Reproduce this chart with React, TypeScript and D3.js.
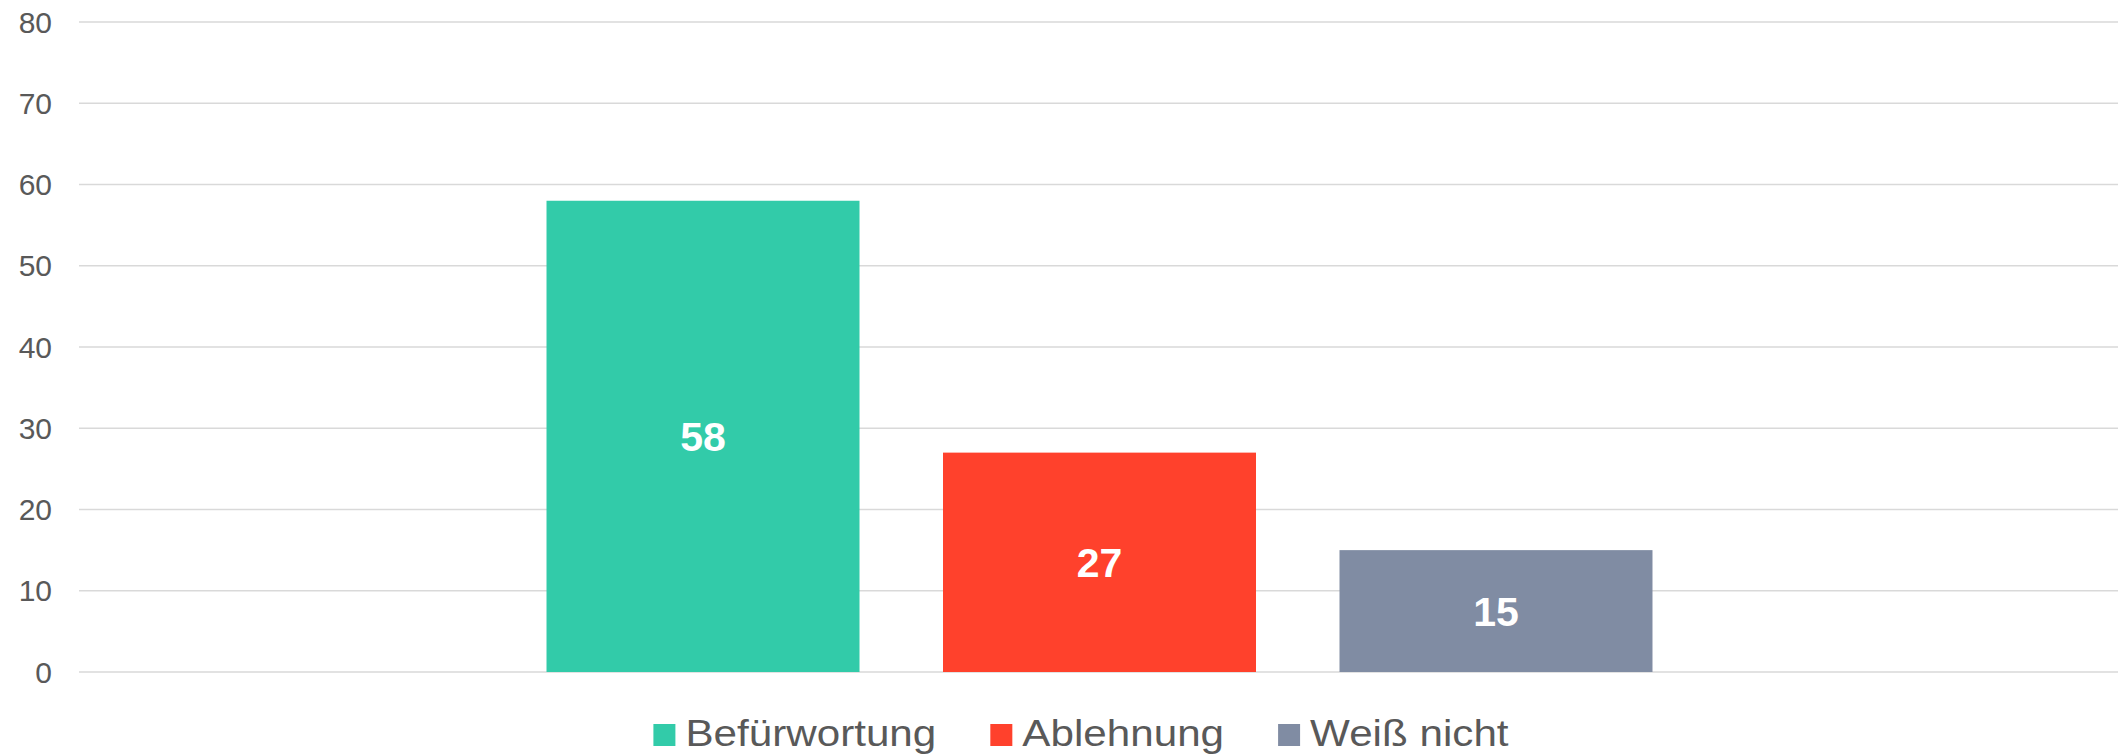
import React, { useEffect, useRef } from "react";
import * as d3 from "d3";

const seriesNames = ["Befürwortung", "Ablehnung", "Weiß nicht"];
const seriesValues = [58, 27, 15];
const seriesColors = ["#32CBA9", "#FF412C", "#808CA3"];
const yTicks = [0, 10, 20, 30, 40, 50, 60, 70, 80];

const W = 2118;
const H = 756;

export default function App() {
  const ref = useRef<SVGSVGElement>(null);

  useEffect(() => {
    document.body.style.margin = "0";
    const svg = d3.select(ref.current);
    svg.selectAll("*").remove();

    const left = 79;
    const right = W;
    const y = d3.scaleLinear().domain([0, 80]).range([672, 22]);
    const x = d3
      .scaleBand<string>()
      .domain(seriesNames)
      .range([left + 1, right + 1])
      .paddingInner(0.2106)
      .paddingOuter(1.1766);

    const font = "'Liberation Sans', Arial, sans-serif";

    // gridlines
    svg
      .append("g")
      .selectAll("line")
      .data(yTicks)
      .join("line")
      .attr("x1", left)
      .attr("x2", right)
      .attr("y1", (d) => y(d))
      .attr("y2", (d) => y(d))
      .attr("stroke", "#d9d9d9")
      .attr("stroke-width", 1.6);

    // y labels
    svg
      .append("g")
      .selectAll("text")
      .data(yTicks)
      .join("text")
      .attr("x", 52)
      .attr("y", (d) => y(d))
      .attr("dy", "0.35em")
      .attr("text-anchor", "end")
      .attr("font-family", font)
      .attr("font-size", 30)
      .attr("fill", "#595959")
      .text((d) => String(d));

    const data = seriesNames.map((n, i) => ({ name: n, value: seriesValues[i], color: seriesColors[i] }));

    // bars
    svg
      .append("g")
      .selectAll("rect")
      .data(data)
      .join("rect")
      .attr("x", (d) => x(d.name)!)
      .attr("width", x.bandwidth())
      .attr("y", (d) => y(d.value))
      .attr("height", (d) => y(0) - y(d.value))
      .attr("fill", (d) => d.color);

    // value labels
    svg
      .append("g")
      .selectAll("text")
      .data(data)
      .join("text")
      .attr("x", (d) => x(d.name)! + x.bandwidth() / 2)
      .attr("y", (d) => (y(d.value) + y(0)) / 2)
      .attr("dy", "0.36em")
      .attr("text-anchor", "middle")
      .attr("font-family", font)
      .attr("font-weight", "bold")
      .attr("font-size", 41)
      .attr("fill", "#ffffff")
      .text((d) => String(d.value));

    // legend
    const legend = svg.append("g");
    const sq = 22;
    const gapSqText = 10;
    const gapItems = 54;
    const sx = 1.125;
    const items = data.map((d) => {
      const g = legend.append("g");
      g.append("rect").attr("width", sq).attr("height", sq).attr("y", 724).attr("fill", d.color);
      const t = g
        .append("text")
        .attr("font-family", font)
        .attr("font-size", 37.5)
        .attr("fill", "#595959")
        .text(d.name);
      const tw = (t.node() as SVGTextElement).getComputedTextLength() * sx;
      return { g, t, tw };
    });
    const total =
      items.reduce((s, it) => s + sq + gapSqText + it.tw, 0) + gapItems * (items.length - 1);
    let cx = 1081 - total / 2;
    items.forEach((it) => {
      it.g.select("rect").attr("x", cx);
      const tx = cx + sq + gapSqText;
      it.t.attr("transform", `translate(${tx},746) scale(${sx},1)`);
      cx = tx + it.tw + gapItems;
    });
  }, []);

  return <svg ref={ref} width={W} height={H} style={{ display: "block", background: "#fff" }} />;
}
